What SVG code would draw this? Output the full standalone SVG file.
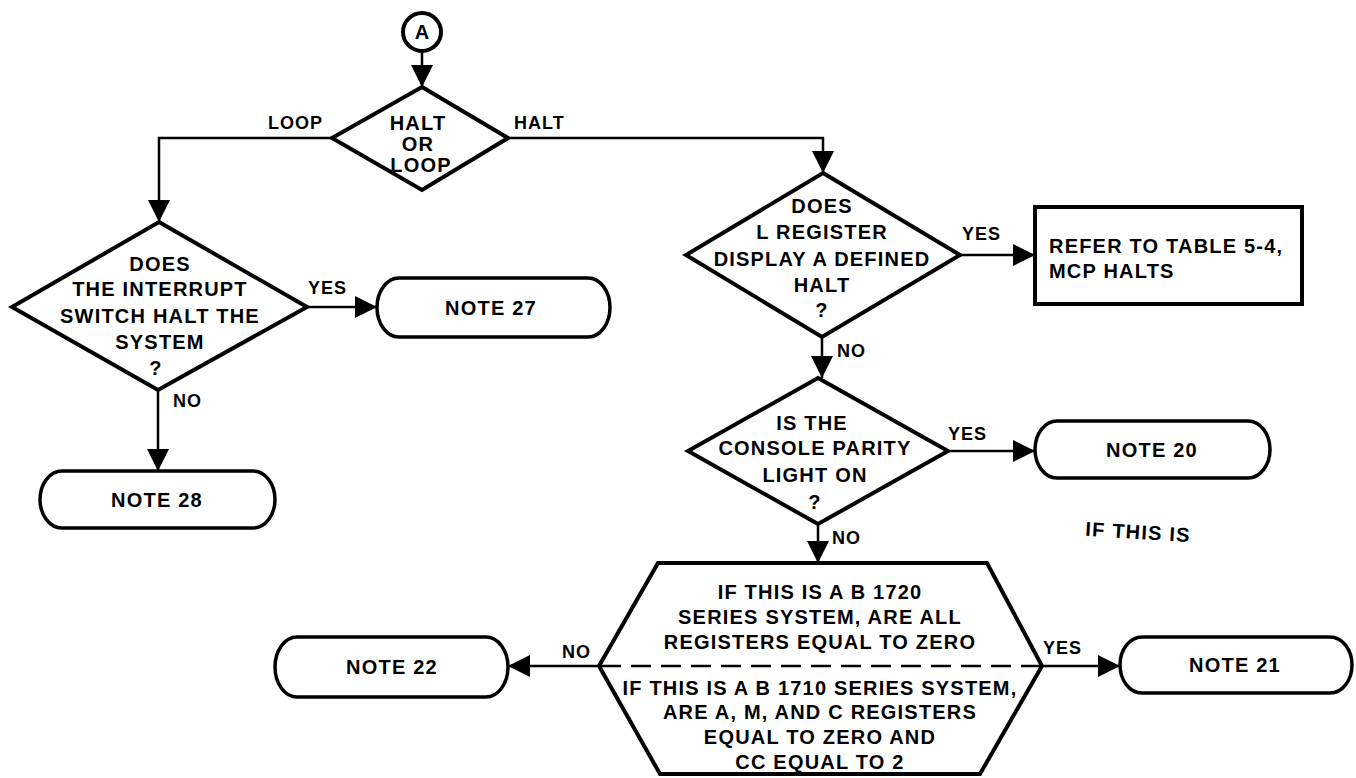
<svg xmlns="http://www.w3.org/2000/svg" width="1356" height="778" viewBox="0 0 1356 778">
<style>
.shape{fill:#fff;stroke:#000;stroke-width:4;stroke-linejoin:miter}
.term{fill:#fff;stroke:#000;stroke-width:3.5}
.conn{fill:none;stroke:#000;stroke-width:2.5}
.t{font-family:"Liberation Sans",Arial,sans-serif;font-weight:bold;font-size:20px;letter-spacing:1.2px;text-anchor:middle;fill:#000}
.l{font-family:"Liberation Sans",Arial,sans-serif;font-weight:bold;font-size:18px;letter-spacing:1px;fill:#000}
.dash{fill:none;stroke:#000;stroke-width:2.5;stroke-dasharray:20 10}
</style>
<defs>
<marker id="ah" viewBox="0 0 22 22" refX="22" refY="11" markerWidth="22" markerHeight="22" markerUnits="userSpaceOnUse" orient="auto">
<path d="M0,0 L22,11 L0,22 Z" fill="#000"/>
</marker>
</defs>
<rect width="1356" height="778" fill="#fff"/>

<g id="connectors">
<path class="conn" d="M422,51 V87" marker-end="url(#ah)"/>
<path class="conn" d="M332,138 H159 V222" marker-end="url(#ah)"/>
<path class="conn" d="M508,138 H823 V173" marker-end="url(#ah)"/>
<path class="conn" d="M307,307 H377" marker-end="url(#ah)"/>
<path class="conn" d="M158,390 V471" marker-end="url(#ah)"/>
<path class="conn" d="M960,255 H1035" marker-end="url(#ah)"/>
<path class="conn" d="M822,337 V378" marker-end="url(#ah)"/>
<path class="conn" d="M948,451 H1035" marker-end="url(#ah)"/>
<path class="conn" d="M818,524 V563" marker-end="url(#ah)"/>
<path class="conn" d="M599,666 H508" marker-end="url(#ah)"/>
<path class="conn" d="M1042,666 H1120" marker-end="url(#ah)"/>
<text class="l" x="268" y="129">LOOP</text>
<text class="l" x="514" y="129">HALT</text>
<text class="l" x="308" y="294">YES</text>
<text class="l" x="173" y="407">NO</text>
<text class="l" x="962" y="240">YES</text>
<text class="l" x="837" y="357">NO</text>
<text class="l" x="948" y="440">YES</text>
<text class="l" x="832" y="544">NO</text>
<text class="l" x="562" y="658">NO</text>
<text class="l" x="1043" y="654">YES</text>
</g>

<g id="connA">
<circle class="shape" cx="422" cy="32" r="19"/>
<text class="t" x="422" y="39" style="letter-spacing:0">A</text>
</g>

<g id="haltOrLoop">
<polygon class="shape" points="422,87 508,138 422,190 332,138"/>
<text class="t" x="418" y="130">HALT</text>
<text class="t" x="418" y="151">OR</text>
<text class="t" x="421" y="172">LOOP</text>
</g>

<g id="interruptDecision">
<polygon class="shape" points="159,222 307,307 158,390 12,307"/>
<text class="t" x="160" y="271">DOES</text>
<text class="t" x="160" y="296">THE INTERRUPT</text>
<text class="t" x="160" y="323">SWITCH HALT THE</text>
<text class="t" x="160" y="349">SYSTEM</text>
<text class="t" x="156" y="375">?</text>
</g>

<g id="note27">
<rect class="term" x="377" y="278" width="233" height="59" rx="22" ry="29.5"/>
<text class="t" x="491" y="315">NOTE 27</text>
</g>

<g id="note28">
<rect class="term" x="40" y="471" width="235" height="57" rx="22" ry="28.5"/>
<text class="t" x="157" y="507">NOTE 28</text>
</g>

<g id="lRegisterDecision">
<polygon class="shape" points="823,173 960,255 822,337 686,255"/>
<text class="t" x="822" y="213">DOES</text>
<text class="t" x="822" y="239">L REGISTER</text>
<text class="t" x="822" y="266">DISPLAY A DEFINED</text>
<text class="t" x="822" y="292">HALT</text>
<text class="t" x="822" y="317">?</text>
</g>

<g id="referTable">
<rect class="shape" x="1035" y="207" width="267" height="97"/>
<text class="t" x="1049" y="253" style="text-anchor:start">REFER TO TABLE 5-4,</text>
<text class="t" x="1049" y="278" style="text-anchor:start">MCP HALTS</text>
</g>

<g id="parityDecision">
<polygon class="shape" points="818,378 948,451 818,524 688,451"/>
<text class="t" x="812" y="430">IS THE</text>
<text class="t" x="815" y="455">CONSOLE PARITY</text>
<text class="t" x="815" y="482">LIGHT ON</text>
<text class="t" x="815" y="509">?</text>
</g>

<g id="note20">
<rect class="term" x="1035" y="421" width="235" height="57" rx="22" ry="28.5"/>
<text class="t" x="1152" y="457">NOTE 20</text>
</g>

<g id="registersDecision">
<polygon class="shape" points="658,563 987,563 1042,666 980,774 660,774 599,666"/>
<line class="dash" x1="601" y1="666" x2="1040" y2="666"/>
<text class="t" x="820" y="599">IF THIS IS A B 1720</text>
<text class="t" x="820" y="624">SERIES SYSTEM, ARE ALL</text>
<text class="t" x="820" y="649">REGISTERS EQUAL TO ZERO</text>
<text class="t" x="820" y="695">IF THIS IS A B 1710 SERIES SYSTEM,</text>
<text class="t" x="820" y="719">ARE A, M, AND C REGISTERS</text>
<text class="t" x="820" y="744">EQUAL TO ZERO AND</text>
<text class="t" x="820" y="769">CC EQUAL TO 2</text>
</g>

<g id="note22">
<rect class="term" x="275" y="637" width="233" height="60" rx="22" ry="30"/>
<text class="t" x="392" y="674">NOTE 22</text>
</g>

<g id="note21">
<rect class="term" x="1120" y="637" width="232" height="56" rx="22" ry="28"/>
<text class="t" x="1235" y="672">NOTE 21</text>
</g>

<g id="strayText">
<text class="t" x="1138" y="539" transform="rotate(3.5 1138 532)">IF THIS IS</text>
</g>
</svg>
